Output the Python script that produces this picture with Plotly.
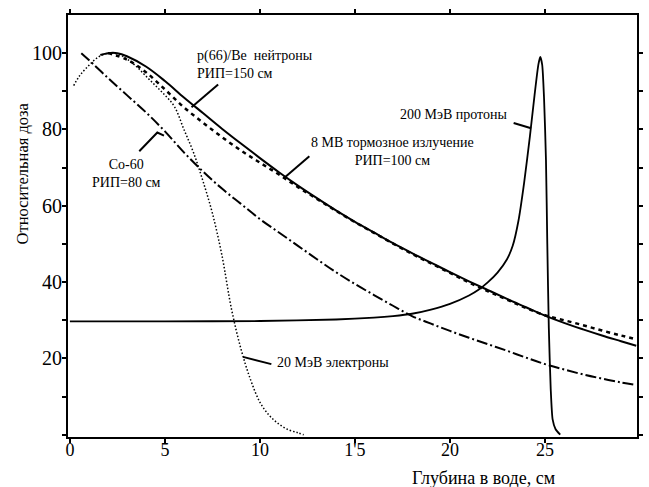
import plotly.graph_objects as go

FONT = "Times New Roman, serif"

# ---- data ----
neutron_x = [1.6, 2, 2.5, 3, 4, 5, 6, 7, 8, 9, 10, 11, 12, 13, 14, 15, 16, 17, 18, 19, 20,
             21, 22, 23, 24, 25, 26, 27, 28, 29, 29.8]
neutron_y = [99.5, 100, 100, 99.2, 96.5, 92.7, 88.4, 84.3, 80.2, 76.3, 72.5, 68.8, 65.3, 62,
             58.8, 55.8, 53, 50.2, 47.6, 45.1, 42.6, 40.2, 37.9, 35.6, 33.4, 31.2, 29.3, 27.6,
             26, 24.5, 23.3]

mv8_x = [2, 3, 4, 5, 6, 7, 8, 9, 10, 11, 12, 13, 14, 15, 16, 17, 18, 19, 20, 21, 22, 23,
         24, 25, 26, 27, 28, 29, 29.8]
mv8_y = [100, 98.3, 95, 90.5, 85.8, 81.8, 78, 74.5, 71.3, 68.2, 64.9, 61.8, 58.7, 55.7, 52.9,
         50.1, 47.4, 44.9, 42.4, 39.9, 37.6, 35.4, 33.2, 31.3, 30, 28.7, 27.3, 26, 25]

co60_x = [0.6, 1, 2, 3, 4, 5, 6, 7, 8, 9, 10, 11, 12, 13, 14, 15, 16, 17, 18, 19, 20, 21,
          22, 23, 24, 25, 26, 27, 28, 29, 29.8]
co60_y = [100, 98.2, 93.5, 89, 84.5, 79.5, 74, 69, 64.5, 60.5, 56.5, 53, 49.5, 46, 42.6,
          39.5, 36.6, 33.8, 31.1, 29.1, 27.2, 25.4, 23.7, 22, 20.2, 18.5, 17.1, 15.8, 14.7,
          13.7, 13]

electron_x = [0.2, 0.5, 1, 1.5, 2, 2.5, 3, 3.5, 4, 4.5, 5, 5.5, 6, 6.5, 7, 7.5, 8, 8.5, 9,
              9.5, 10, 10.5, 11, 11.5, 12, 12.3]
electron_y = [91.5, 94, 96.8, 99, 100, 99.8, 98.5, 96.5, 94, 91.5, 89, 86, 80, 74, 66.5, 58,
              47, 33, 22.5, 14.5, 8.5, 5, 2.8, 1.3, 0.5, 0]

proton_x = [0, 5, 10, 14, 16, 17, 18, 19, 20, 21, 21.5, 22, 22.5, 23, 23.3, 23.6, 23.9, 24.2,
            24.45, 24.65, 24.75, 24.85, 24.95, 25.05, 25.12, 25.2, 25.3, 25.4, 25.55, 25.8]
proton_y = [29.7, 29.7, 29.8, 30.2, 30.7, 31.1, 31.7, 32.8, 34.3, 36.5, 38, 40, 42.5, 46,
            49.5, 56, 66, 78, 89, 97, 99, 97, 88, 72, 50, 28, 12, 4, 1.5, 0]

x_tickvals = [0, 5, 10, 15, 20, 25]
x_ticktext = ["0", "5", "10", "1'5", "20", "25"]
y_tickvals = [0, 10, 20, 30, 40, 50, 60, 70, 80, 90, 100]
y_ticktext = ["", "", "20", "", "40", "", "60", "", "80", "", "100"]

x_title = "Глубина в воде, см"
y_title = "Относительная доза"

labels = {
    "neutron": "p(66)/Be  нейтроны<br>РИП=150 см",
    "mv8": "8 MB тормозное излучение<br>РИП=100 см",
    "co60": "Co-60<br>РИП=80 см",
    "proton": "200 МэВ протоны",
    "electron": "20 МэВ электроны",
}

fig = go.Figure()
fig.add_trace(go.Scatter(x=co60_x, y=co60_y, mode="lines", line_shape="spline",
                         line=dict(color="black", width=2, dash="11px,3px,2px,3px")))
fig.add_trace(go.Scatter(x=electron_x, y=electron_y, mode="lines", line_shape="spline",
                         line=dict(color="black", width=1.5, dash="1.5px,2px")))
fig.add_trace(go.Scatter(x=mv8_x, y=mv8_y, mode="lines", line_shape="spline",
                         line=dict(color="black", width=2.5, dash="4px,4px")))
fig.add_trace(go.Scatter(x=neutron_x, y=neutron_y, mode="lines", line_shape="spline",
                         line=dict(color="black", width=2)))
fig.add_trace(go.Scatter(x=proton_x, y=proton_y, mode="lines", line_shape="spline",
                         line=dict(color="black", width=1.8, smoothing=0.6)))

lw = dict(color="black", width=2)
shapes = [
    dict(type="line", x0=7.8, y0=91.8, x1=6.4, y1=85.8, line=lw),
    dict(type="line", x0=12.6, y0=73, x1=11.3, y1=67.4, line=lw),
    dict(type="path", path="M 3.65 74.3 L 4.6 79.2 L 4.95 78.4", line=lw),
    dict(type="line", x0=23.35, y0=81.7, x1=24.27, y1=80.3, line=lw),
    dict(type="line", x0=9.11, y0=20.4, x1=10.6, y1=18.5, line=lw),
]
for s in shapes:
    s.update(xref="x", yref="y", layer="above")

tf = dict(family=FONT, size=14, color="black")
ann = [
    dict(x=6.56, y=97, text=labels["neutron"], xanchor="left", align="left"),
    dict(x=17.0, y=74.3, text=labels["mv8"], xanchor="center", align="center"),
    dict(x=3.0, y=68.5, text=labels["co60"], xanchor="center", align="center"),
    dict(x=20.2, y=84.0, text=labels["proton"], xanchor="center", align="center"),
    dict(x=10.78, y=18.9, text=labels["electron"], xanchor="left", align="left"),
]
for a in ann:
    a.update(xref="x", yref="y", showarrow=False, font=tf)

ann.append(dict(x=(488 - 68) / 575, y=-(478 - 437) / 422, xref="paper", yref="paper",
                text=x_title, showarrow=False, font=dict(family=FONT, size=18, color="black"),
                xanchor="center", yanchor="middle"))
ann.append(dict(x=-(68 - 22) / 575, y=(437 - 173) / 422, xref="paper", yref="paper",
                text=y_title, showarrow=False, textangle=-90,
                font=dict(family=FONT, size=16.5, color="black"),
                xanchor="center", yanchor="middle"))

fig.update_layout(
    width=649, height=487,
    margin=dict(l=68, r=6, t=15, b=50),
    paper_bgcolor="white", plot_bgcolor="white",
    showlegend=False,
    shapes=shapes, annotations=ann,
    font=dict(family=FONT, color="black"),
    xaxis=dict(range=[-0.1, 29.84], tickvals=x_tickvals, ticktext=x_ticktext,
               showgrid=False, zeroline=False, showline=True, linecolor="black",
               linewidth=2, mirror="ticks", ticks="outside", ticklen=4, tickwidth=1.5,
               ticklabelstandoff=-9,
               tickcolor="black", tickfont=dict(family=FONT, size=18, color="black")),
    yaxis=dict(range=[-0.6, 110], tickvals=y_tickvals, ticktext=y_ticktext,
               showgrid=False, zeroline=False, showline=True, linecolor="black",
               linewidth=2, mirror="ticks", ticks="outside", ticklen=4, tickwidth=1.5,
               ticklabelstandoff=-4,
               tickcolor="black", tickfont=dict(family=FONT, size=20, color="black")),
)

fig.write_html("out.html")
